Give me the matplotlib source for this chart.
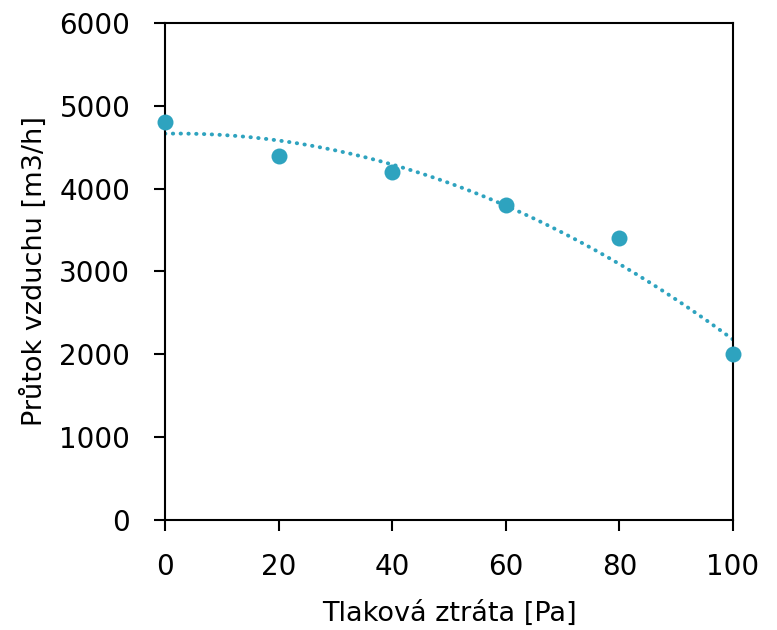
import numpy as np
import matplotlib
matplotlib.use("Agg")
import matplotlib.pyplot as plt

plt.rcParams['font.family'] = ['DejaVu Sans']

# Measured pressure drop vs. airflow
pressure_pa = [0, 20, 40, 60, 80, 100]
airflow_m3h = [4800, 4400, 4200, 3800, 3400, 2000]

x_ticks = [0, 20, 40, 60, 80, 100]
y_ticks = [0, 1000, 2000, 3000, 4000, 5000, 6000]

color = '#2EA3BF'

fig = plt.figure(figsize=(7.77, 6.30), dpi=100)
ax = fig.add_axes([0.2124, 0.1746, 0.7310, 0.7889])

# Second-order polynomial trend line
coef = np.polyfit(pressure_pa, airflow_m3h, 2)
xs = np.linspace(min(pressure_pa), max(pressure_pa), 200)
ax.plot(xs, np.polyval(coef, xs), color=color, lw=2.8,
        linestyle=(0, (0.1, 1.9)), dash_capstyle='round', zorder=2)

ax.plot(pressure_pa, airflow_m3h, 'o', color=color, markersize=11.5,
        markeredgewidth=0, zorder=3, clip_on=False)

ax.set_xlim(0, 100)
ax.set_ylim(0, 6000)
ax.set_xticks(x_ticks)
ax.set_yticks(y_ticks)

for s in ax.spines.values():
    s.set_linewidth(1.5)
    s.set_color('black')

ax.tick_params(axis='both', direction='out', length=8, width=1.5,
               labelsize=20)
ax.tick_params(axis='x', pad=16)
ax.tick_params(axis='y', pad=17)

ax.set_xlabel('Tlaková ztráta [Pa]', fontsize=19.5, labelpad=14)
ax.set_ylabel('Průtok vzduchu [m3/h]', fontsize=19.5, labelpad=8)

fig.savefig('out.png', dpi=100)
